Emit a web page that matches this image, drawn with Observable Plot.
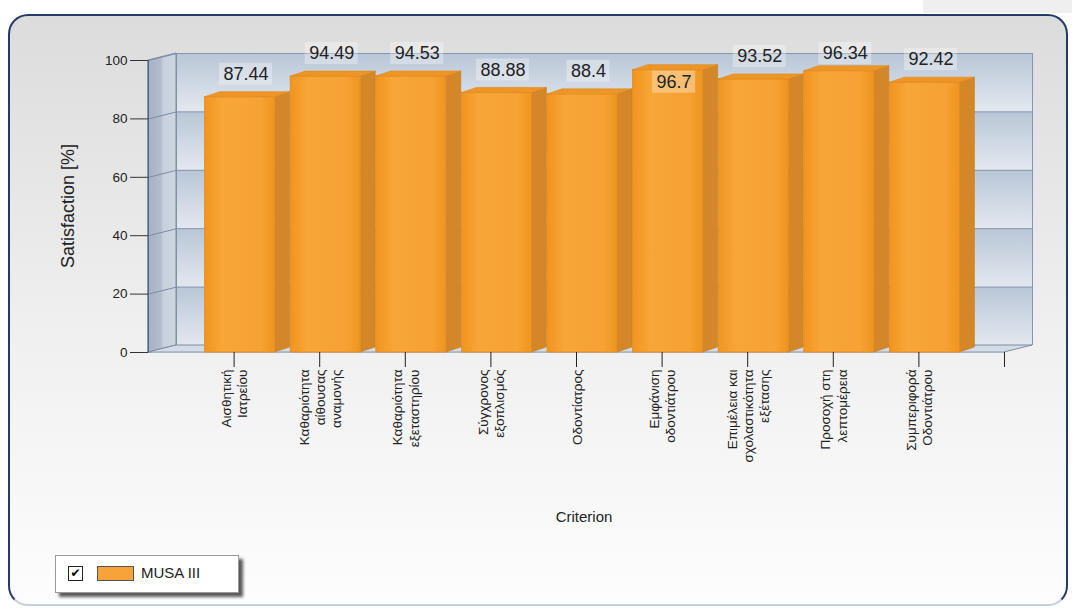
<!DOCTYPE html>
<html><head><meta charset="utf-8">
<script src="https://cdn.jsdelivr.net/npm/d3@7"></script>
<script src="https://cdn.jsdelivr.net/npm/@observablehq/plot@0.6"></script>
<style>
html,body{margin:0;padding:0;background:#fff;width:1072px;height:610px;overflow:hidden;font-family:'Liberation Sans',Arial,sans-serif;}
#corner{position:absolute;left:923px;top:0;width:149px;height:13px;background:#efefef;}
#panel{position:absolute;left:8px;top:14px;width:1056px;height:588px;border:2px solid #26396b;border-bottom-color:#c3d0de;border-radius:20px;background:linear-gradient(#dcdcdc,#f0f0f0 55%,#fdfdfd);}
#chart{position:absolute;left:0;top:0;}
.title{position:absolute;color:#222;font-size:15px;white-space:nowrap;}
#ytitle{left:68px;top:206px;transform:translate(-50%,-50%) rotate(-90deg);font-size:18px;}
#xtitle{left:584px;top:516px;transform:translate(-50%,-50%);}
#legend{position:absolute;left:55px;top:555px;width:182px;height:36px;background:#fff;border:1px solid #9a9a9a;box-shadow:4px 4px 3px #5a5a5a;}
#chk{position:absolute;left:12px;top:10px;width:13px;height:13px;border:1.5px solid #222;background:#fff;font-family:'DejaVu Sans';font-size:12px;line-height:13px;text-align:center;color:#000;}
#swatch{position:absolute;left:41px;top:10px;width:35px;height:13px;border:1px solid #555;}
#lgtext{position:absolute;left:85px;top:8px;font-size:15px;color:#222;}
</style></head>
<body>
<div id="corner"></div>
<div id="panel"></div>
<div id="chart"></div>
<div class="title" id="ytitle">Satisfaction [%]</div>
<div class="title" id="xtitle">Criterion</div>
<div id="legend"><div id="chk">✔</div><div id="swatch"></div><div id="lgtext"></div></div>
<script>
// ---- data ----
const categories = [
  "Αισθητική\nΙατρείου",
  "Καθαριότητα\nαίθουσας\nαναμονής",
  "Καθαριότητα\nεξεταστηρίου",
  "Σύγχρονος\nεξοπλισμός",
  "Οδοντίατρος",
  "Εμφάνιση\nοδοντιάτρου",
  "Επιμέλεια και\nσχολαστικότητα\nεξέτασης",
  "Προσοχή στη\nλεπτομέρεια",
  "Συμπεριφορά\nΟδοντιάτρου"
];
const satisfaction = [87.44, 94.49, 94.53, 88.88, 88.4, 96.7, 93.52, 96.34, 92.42];
const yTicks = [0, 20, 40, 60, 80, 100];
const seriesName = "MUSA III";
const barColor = "#f7a33a";

// ---- layout ----
const W = 1072, H = 610, mL = 148, mR = 68, mT = 60, mB = 258;
const xDomain = [-1, categories.length]; // one empty slot at the end
const kx = (W - mL - mR) / (xDomain[1] - xDomain[0]);
const ky = (H - mT - mB) / 100;
const WDX = 28, WDY = 7;          // wall depth (px)
const BL = -29, BR = 41, BDX = 15, BDY = 5; // bar geometry (px, relative to tick)
const LX = 12, LY = 23;           // label offset (px)

document.getElementById("swatch").style.background = barColor;
document.getElementById("lgtext").textContent = seriesName;

const bars = satisfaction.map((v, i) => ({i, v, label: String(v)}));
const sides = bars.flatMap(d => [
  {z: d.i, x: d.i + BR / kx, y1: 0, y2: d.v},
  {z: d.i, x: d.i + (BR + BDX) / kx, y1: BDY / ky, y2: d.v + BDY / ky}
]);
const tops = bars.flatMap(d => [
  {z: d.i, y: d.v, x1: d.i + BL / kx, x2: d.i + BR / kx},
  {z: d.i, y: d.v + BDY / ky, x1: d.i + (BL + BDX) / kx, x2: d.i + (BR + BDX) / kx}
]);
function labelY(v) {
  const above = v + LY / ky;
  const maxY = 100 + (mT - 53) / ky;
  if (above > maxY + 2.0) return v - 12 / ky; // placed inside the bar
  return Math.min(above, maxY);
}
function textW(s) {
  let w = 0;
  for (const c of s) w += (c === ".") ? 0.278 : 0.556;
  return w * 18 + 8;
}
const labels = bars.map(d => ({...d, lx: d.i + LX / kx, ly: labelY(d.v), w: textW(d.label)}));

const chart = Plot.plot({
  width: W, height: H,
  marginLeft: mL, marginRight: mR, marginTop: mT, marginBottom: mB,
  style: {fontFamily: "'Liberation Sans', Arial, sans-serif", background: "transparent", color: "#222"},
  x: {type: "linear", domain: xDomain},
  y: {type: "linear", domain: [0, 100]},
  marks: [
    // back wall
    Plot.rect(d3.range(5), {y1: d => yTicks[d], y2: d => yTicks[d + 1], fill: "url(#wallBand)", dx: WDX, dy: -WDY}),
    Plot.ruleY(yTicks, {dx: WDX, dy: -WDY, stroke: "#8595ab", strokeWidth: 1}),
    Plot.ruleX([xDomain[0], xDomain[1]], {y1: 0, y2: 100, dx: WDX, dy: -WDY, stroke: "#8595ab"}),
    // left wall
    Plot.areaY([{x: xDomain[0], y1: 0, y2: 100}, {x: xDomain[0] + WDX / kx, y1: WDY / ky, y2: 100 + WDY / ky}],
      {x: "x", y1: "y1", y2: "y2", fill: "url(#leftWall)", stroke: "#7d8ca2", strokeWidth: 1}),
    Plot.link(yTicks, {x1: xDomain[0], x2: xDomain[0] + WDX / kx, y1: d => d, y2: d => d + WDY / ky, stroke: "#7d8ca2"}),
    // floor
    Plot.areaX([{y: 0, x1: xDomain[0], x2: xDomain[1]}, {y: WDY / ky, x1: xDomain[0] + WDX / kx, x2: xDomain[1] + WDX / kx}],
      {y: "y", x1: "x1", x2: "x2", fill: "#d3dbe6", stroke: "#7d8ca2", strokeWidth: 1}),
    Plot.ruleX([xDomain[0]], {y1: 0, y2: 100, stroke: "#55657b"}),
    // bars
    Plot.areaY(sides, {x: "x", y1: "y1", y2: "y2", z: "z", fill: "#d48728", stroke: "#c27a22", strokeWidth: 0.6}),
    Plot.rect(bars, {x1: d => d.i + BL / kx, x2: d => d.i + BR / kx, y1: 0, y2: "v", fill: "url(#barFront)", stroke: "#e18c20", strokeWidth: 0.8}),
    Plot.areaX(tops, {y: "y", x1: "x1", x2: "x2", z: "z", fill: "#ee9526", stroke: "#dd8a1f", strokeWidth: 0.6}),
    // value labels
    Plot.rect(labels, {x1: d => d.lx - d.w / 2 / kx, x2: d => d.lx + d.w / 2 / kx,
      y1: d => d.ly - 11 / ky, y2: d => d.ly + 11 / ky, fill: "white", fillOpacity: 0.32}),
    Plot.text(labels, {x: "lx", y: "ly", text: "label", fontSize: 18, fill: "#222"}),
    // axes
    Plot.axisY(yTicks, {tickSize: 18, tickPadding: 3, fontSize: 13.5, label: null, stroke: "#333", fill: "#222"}),
    Plot.axisX(d3.range(categories.length + 1), {tickSize: 15, tickPadding: 2, tickRotate: -90,
      tickFormat: i => categories[i] ?? "", fontSize: 13.5, lineHeight: 1.2, label: null, stroke: "#222", fill: "#222"})
  ]
});

const defs = d3.select(chart).append("defs");
const g1 = defs.append("linearGradient").attr("id", "wallBand").attr("x1", 0).attr("y1", 0).attr("x2", 0).attr("y2", 1);
g1.append("stop").attr("offset", "0%").attr("stop-color", "#b9c6d7");
g1.append("stop").attr("offset", "100%").attr("stop-color", "#e3e8ef");
const g2 = defs.append("linearGradient").attr("id", "leftWall").attr("x1", 0).attr("y1", 0).attr("x2", 1).attr("y2", 0);
g2.append("stop").attr("offset", "0%").attr("stop-color", "#a5b2c4");
g2.append("stop").attr("offset", "45%").attr("stop-color", "#b2bdcc");
g2.append("stop").attr("offset", "55%").attr("stop-color", "#c7d0dc");
g2.append("stop").attr("offset", "100%").attr("stop-color", "#ced6e0");
const g3 = defs.append("linearGradient").attr("id", "barFront").attr("x1", 0).attr("y1", 0).attr("x2", 1).attr("y2", 0);
g3.append("stop").attr("offset", "0%").attr("stop-color", "#f1941f");
g3.append("stop").attr("offset", "25%").attr("stop-color", "#f7a638");
g3.append("stop").attr("offset", "80%").attr("stop-color", "#f6a234");
g3.append("stop").attr("offset", "100%").attr("stop-color", "#ef951f");

document.getElementById("chart").appendChild(chart);
</script>
</body></html>
